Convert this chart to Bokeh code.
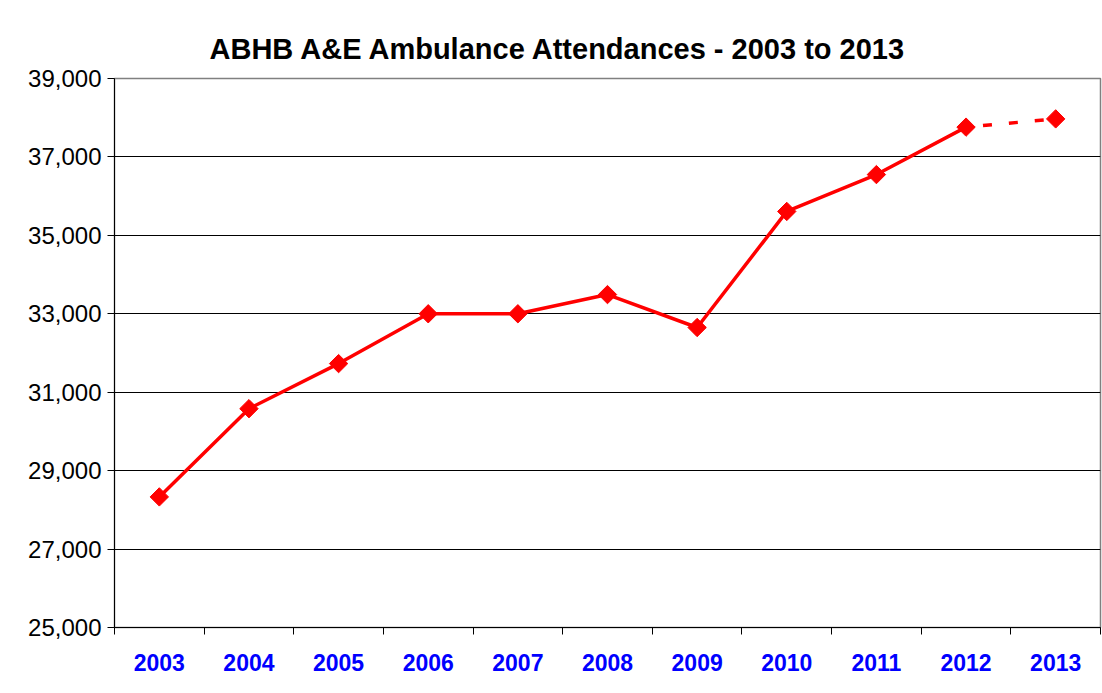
import math
from bokeh.plotting import figure
from bokeh.models import FixedTicker, NumeralTickFormatter, Range1d, Title
from bokeh.embed import file_html
from bokeh.resources import INLINE

years = ["2003", "2004", "2005", "2006", "2007", "2008", "2009", "2010", "2011", "2012", "2013"]
attendances = [28330, 30580, 31730, 33000, 33000, 33490, 32650, 35610, 36550, 37760, 37970]
y_ticks = [25000, 27000, 29000, 31000, 33000, 35000, 37000, 39000]
title_text = "ABHB A&E Ambulance Attendances - 2003 to 2013"

xs = list(range(len(years)))
FONT = "Liberation Sans"

p = figure(width=1102, height=693, output_backend="svg", toolbar_location=None,
           x_range=Range1d(-0.5, len(years) - 0.5), y_range=Range1d(25000, 39000),
           min_border_left=114, min_border_right=2, min_border_top=78, min_border_bottom=66)
p.title = Title(text=title_text, align="left", offset=95, text_font=FONT, text_font_size="29px",
                text_font_style="bold", text_color="black", standoff=28)

p.background_fill_color = "white"
p.border_fill_color = "white"
p.outline_line_color = "#808080"
p.outline_line_width = 1.5

# y axis
p.yaxis.ticker = FixedTicker(ticks=y_ticks)
p.yaxis.formatter = NumeralTickFormatter(format="0,0")
p.yaxis.axis_line_color = "black"
p.yaxis.major_tick_line_color = "black"
p.yaxis.major_tick_out = 7
p.yaxis.major_tick_in = 0
p.yaxis.minor_tick_line_color = None
p.yaxis.major_label_text_font = FONT
p.yaxis.major_label_text_font_size = "24px"
p.yaxis.major_label_text_color = "black"
p.yaxis.major_label_standoff = 6

# x axis
p.xaxis.ticker = FixedTicker(ticks=xs, minor_ticks=[i - 0.5 for i in range(len(years) + 1)])
p.xaxis.major_label_overrides = {i: y for i, y in enumerate(years)}
p.xaxis.axis_line_color = "black"
p.xaxis.major_tick_line_color = None
p.xaxis.major_tick_out = 0
p.xaxis.major_tick_in = 0
p.xaxis.minor_tick_line_color = "black"
p.xaxis.minor_tick_out = 7
p.xaxis.minor_tick_in = 0
p.xaxis.major_label_text_font = FONT
p.xaxis.major_label_text_font_size = "23px"
p.xaxis.major_label_text_font_style = "bold"
p.xaxis.major_label_text_color = "#0000FF"
p.xaxis.major_label_standoff = 19

p.xgrid.grid_line_color = None
p.ygrid.grid_line_color = "black"
p.ygrid.grid_line_width = 1

RED = "#FF0000"
p.line(xs[:-1], attendances[:-1], line_color=RED, line_width=3.5)
p.line(xs[-2:], attendances[-2:], line_color=RED, line_width=3.5, line_dash="9 17", line_dash_offset=-17)
p.scatter(xs, attendances, marker="square", size=13, angle=math.pi / 4, fill_color=RED, line_color=RED)

open("out.html", "w").write(file_html(p, INLINE))
